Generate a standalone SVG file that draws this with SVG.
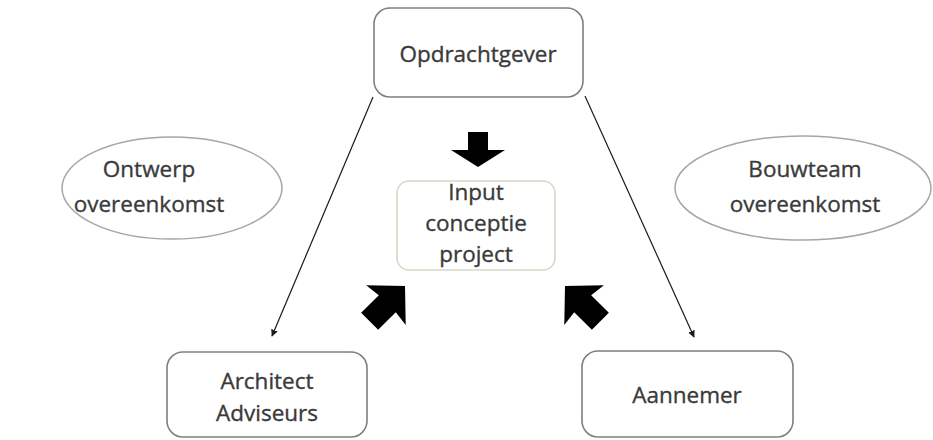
<svg xmlns="http://www.w3.org/2000/svg" width="933" height="440" viewBox="0 0 933 440">
  <style>
    .box { fill: #ffffff; stroke: #7f7f7f; stroke-width: 1.6; }
    .soft { fill: #ffffff; stroke: #d6d9c6; stroke-width: 1.6; }
    .oval { fill: #ffffff; stroke: #a6a6a6; stroke-width: 1.5; }
    .lbl { font-family: "Open Sans", "Noto Sans", "Liberation Sans", sans-serif; font-size: 22.5px; fill: #3a3a3a; stroke: #3a3a3a; stroke-width: 0.35; text-anchor: middle; }
    .link { stroke: #1a1a1a; stroke-width: 1.2; fill: none; marker-end: url(#tip); }
    .block { fill: #000000; }
  </style>
  <defs>
    <marker id="tip" viewBox="0 0 10 10" refX="9" refY="5" markerWidth="7" markerHeight="7" markerUnits="userSpaceOnUse" orient="auto">
      <path d="M0,0 L10,5 L0,10 z" fill="#1a1a1a"/>
    </marker>
    <!-- block arrow pointing up, tip at origin -->
    <path id="blockUp" d="M0,0 L28,27 L12,25 L12,50 L-12,50 L-12,25 L-28,27 z"/>
  </defs>

  <rect width="933" height="440" fill="#ffffff"/>

  <g id="connectors">
    <line class="link" x1="373" y1="97" x2="272" y2="336"/>
    <line class="link" x1="585" y1="96" x2="694" y2="337"/>
  </g>

  <g id="opdrachtgever">
    <rect class="box" x="374" y="8" width="209" height="89" rx="16"/>
    <text class="lbl" x="478" y="62">Opdrachtgever</text>
  </g>

  <g id="ontwerp-overeenkomst">
    <ellipse class="oval" cx="172" cy="188" rx="110" ry="51"/>
    <text class="lbl" x="149" y="177">Ontwerp</text>
    <text class="lbl" x="149" y="212">overeenkomst</text>
  </g>

  <g id="bouwteam-overeenkomst">
    <ellipse class="oval" cx="803" cy="188" rx="128" ry="52"/>
    <text class="lbl" x="805" y="177">Bouwteam</text>
    <text class="lbl" x="805" y="212">overeenkomst</text>
  </g>

  <g id="input-conceptie">
    <rect class="soft" x="397" y="181" width="158" height="89" rx="12"/>
    <text class="lbl" x="476" y="200">Input</text>
    <text class="lbl" x="476" y="231">conceptie</text>
    <text class="lbl" x="476" y="262">project</text>
  </g>

  <g id="architect-adviseurs">
    <rect class="box" x="167" y="352" width="200" height="85" rx="16"/>
    <text class="lbl" x="267" y="389">Architect</text>
    <text class="lbl" x="267" y="421">Adviseurs</text>
  </g>

  <g id="aannemer">
    <rect class="box" x="582" y="351" width="211" height="86" rx="16"/>
    <text class="lbl" x="687" y="403">Aannemer</text>
  </g>

  <g id="block-arrows">
    <path class="block" d="M468,132 L488,132 L488,150 L505,150 L478,167 L451,150 L468,150 z"/>
    <use class="block" href="#blockUp" transform="translate(405,286) rotate(45)"/>
    <use class="block" href="#blockUp" transform="translate(565,286) rotate(-45)"/>
  </g>
</svg>
